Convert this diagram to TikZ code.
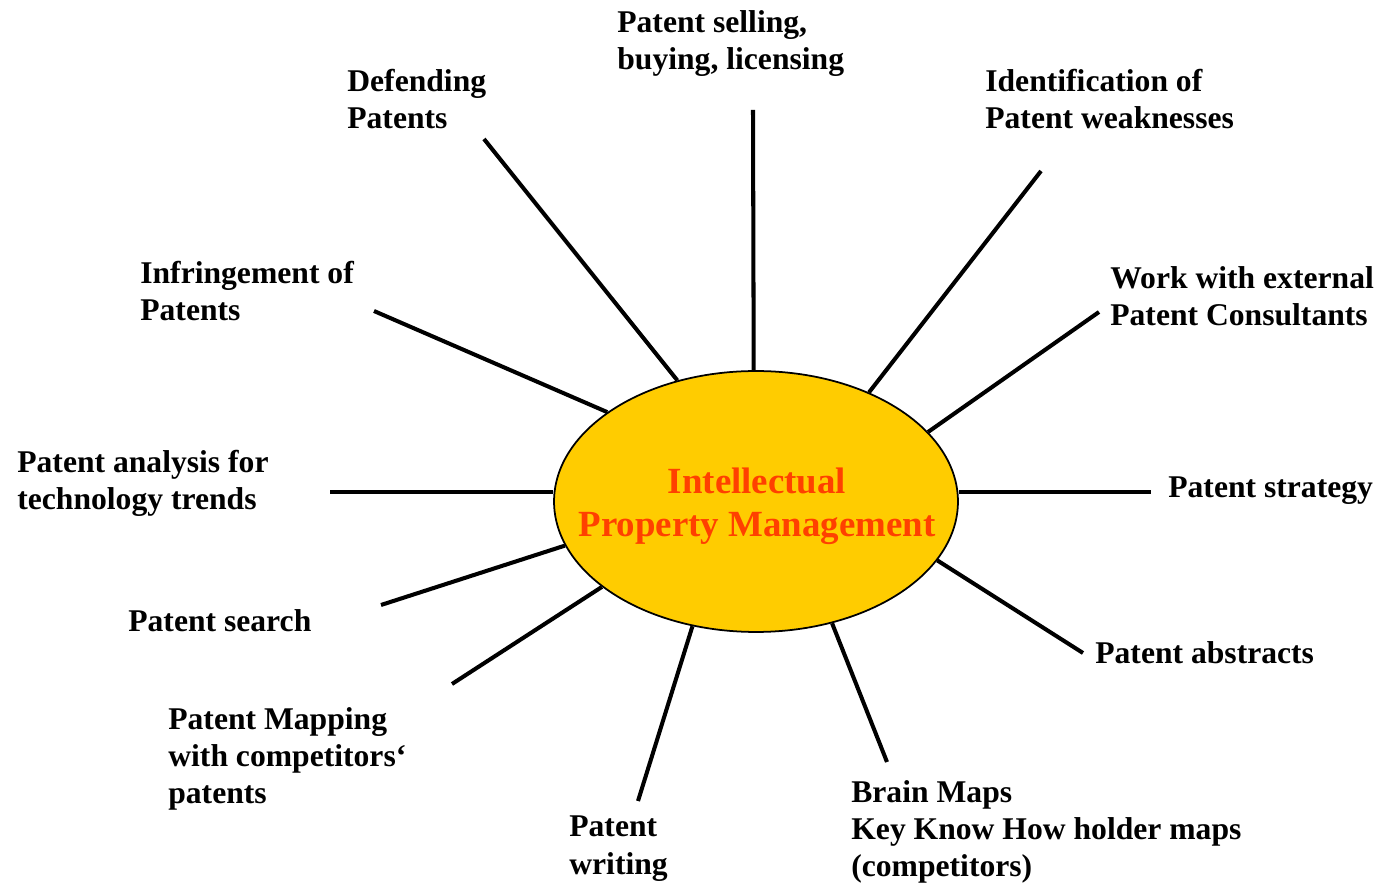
\documentclass[tikz,border=0pt]{standalone}
\usepackage{fontspec}
\setmainfont{Liberation Serif}
\usetikzlibrary{shapes.geometric}
\definecolor{ipgold}{RGB}{255,204,0}
\definecolor{ipred}{RGB}{255,64,0}
\begin{document}
\begin{tikzpicture}[x=0.02cm, y=-0.02cm,
    spoke/.style={line width=2.3pt, black},
    label/.style={anchor=base west, align=left, inner sep=0pt,
                  font=\fontsize{18}{21.3}\selectfont\bfseries}]
    \useasboundingbox (0,0) rectangle (1380,884);

    % 中心椭圆（文字按最后一行的基线放置）
    \node[ellipse, draw, line width=1pt, fill=ipgold, inner sep=0pt,
          minimum width=8.08cm, minimum height=5.22cm] (ip) at (756,501.5) {};
    \node[anchor=base, align=center, inner sep=0pt, text=ipred,
          font=\fontsize{21}{24.9}\selectfont\bfseries] (iptext) at (757,537)
          {Intellectual\\Property Management};

    % 射线外端点
    \coordinate (sellend)    at (753,110);
    \coordinate (defendend)  at (484,139);
    \coordinate (weakend)    at (1041,171);
    \coordinate (infrend)    at (374,311);
    \coordinate (consultend) at (1099,312);
    \coordinate (trendend)   at (330,492);
    \coordinate (stratend)   at (1151,492);
    \coordinate (searchend)  at (381,605);
    \coordinate (abstrend)   at (1083,653);
    \coordinate (mapend)     at (452,684);
    \coordinate (writeend)   at (638,801);
    \coordinate (brainend)   at (887,762);

    % 射线
    \foreach \a/\e in {91.3/sellend, 123.4/defendend, 44.6/weakend,
                       149.2/infrend, 22.6/consultend,
                       193.4/searchend, 342.9/abstrend,
                       209.0/mapend, 243.7/writeend, 302.0/brainend} {
        \draw[spoke] (ip.\a) -- (\e);
    }
    % 水平射线
    \draw[spoke] (ip.west |- trendend) -- (trendend);
    \draw[spoke] (ip.east |- stratend) -- (stratend);

    % 标注（多行时坐标为最后一行的基线）
    \node[label] (sell)    at (617,70)   {Patent selling,\\buying, licensing};
    \node[label] (defend)  at (347,129)  {Defending\\Patents};
    \node[label] (weak)    at (985,129)  {Identification of\\Patent weaknesses};
    \node[label] (infr)    at (140,321)  {Infringement of\\Patents};
    \node[label] (consult) at (1110,326) {Work with external\\Patent Consultants};
    \node[label] (trend)   at (17,510)   {Patent analysis for\\technology trends};
    \node[label] (strat)   at (1168,498) {Patent strategy};
    \node[label] (search)  at (128,632)  {Patent search};
    \node[label] (abstr)   at (1095,664) {Patent abstracts};
    \node[label] (mapping) at (168,804)  {Patent Mapping\\with competitors‘\\patents};
    \node[label] (writing) at (569,874)  {Patent\\writing};
    \node[label] (brain)   at (851,877)  {Brain Maps\\Key Know How holder maps\\(competitors)};
\end{tikzpicture}
\end{document}
